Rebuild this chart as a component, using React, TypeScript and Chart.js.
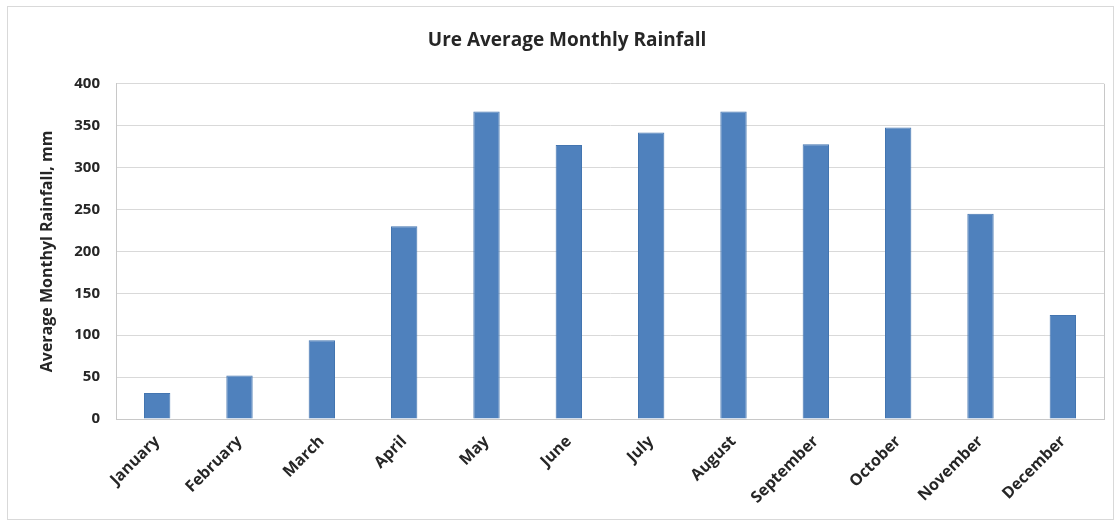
import React, { useEffect, useRef } from "react";
import { Chart, registerables } from "chart.js";

Chart.register(...registerables);

const months = [
  "January", "February", "March", "April", "May", "June",
  "July", "August", "September", "October", "November", "December",
];
const rainfall = [31, 52, 94, 230, 367, 327, 342, 367, 328, 348, 245, 124];
const yTicks = [0, 50, 100, 150, 200, 250, 300, 350, 400];
const titleText = "Ure Average Monthly Rainfall";
const yTitleText = "Average Monthyl Rainfall, mm";

const FONT = "'Open Sans', Lato, sans-serif";
const W = 1120;
const H = 522;

const framePlugin = {
  id: "frame",
  beforeDraw(chart: any) {
    const ctx = chart.ctx;
    ctx.save();
    ctx.fillStyle = "#ffffff";
    ctx.fillRect(0, 0, chart.width, chart.height);
    ctx.strokeStyle = "#d9d9d9";
    ctx.lineWidth = 1;
    ctx.strokeRect(7.5, 6.5, 1106, 513);
    ctx.restore();
  },
  afterDatasetsDraw(chart: any) {
    const { ctx, chartArea } = chart;
    ctx.save();
    ctx.strokeStyle = "#c8c8c8";
    ctx.lineWidth = 1;
    ctx.beginPath();
    const x = Math.round(chartArea.right) + 0.5;
    ctx.moveTo(x, chartArea.top);
    ctx.lineTo(x, chartArea.bottom);
    ctx.stroke();
    ctx.restore();
  },
};

export default function App() {
  const ref = useRef<HTMLCanvasElement | null>(null);

  useEffect(() => {
    if (!ref.current) return;
    const chart = new Chart(ref.current, {
      type: "bar",
      data: {
        labels: months,
        datasets: [
          {
            data: rainfall,
            backgroundColor: "#4f81bd",
            borderColor: "#4475b0",
            borderWidth: 1,
            categoryPercentage: 1,
            barPercentage: 0.32,
          },
        ],
      },
      plugins: [framePlugin],
      options: {
        responsive: false,
        animation: false,
        layout: { padding: { left: 30, right: 16, top: 0, bottom: 0 } },
        plugins: {
          legend: { display: false },
          tooltip: { enabled: false },
          title: {
            display: true,
            text: titleText,
            color: "#262626",
            font: { family: FONT, size: 19, weight: "bold" },
            padding: { top: 29, bottom: 32 },
          },
        },
        scales: {
          x: {
            grid: { display: false, drawTicks: false },
            border: { display: true, color: "#c8c8c8" },
            ticks: {
              color: "#262626",
              font: { family: FONT, size: 16, weight: "bold" },
              minRotation: 45,
              maxRotation: 45,
              padding: 13,
              autoSkip: false,
            },
            afterFit(scale: any) {
              scale.height = H - 419;
            },
          },
          y: {
            min: 0,
            max: 400,
            afterBuildTicks(scale: any) {
              scale.ticks = yTicks.map((v) => ({ value: v }));
            },
            grid: { color: "#d9d9d9", drawTicks: false },
            border: { display: true, color: "#c8c8c8" },
            ticks: {
              color: "#262626",
              font: { family: FONT, size: 15, weight: "bold" },
              padding: 16,
            },
            title: {
              display: true,
              text: yTitleText,
              color: "#262626",
              font: { family: FONT, size: 16, weight: "bold" },
              padding: { top: 8, bottom: 0 },
            },
            afterFit(scale: any) {
              scale.width = 116 - 30;
            },
          },
        },
      },
    });
    return () => chart.destroy();
  }, []);

  return (
    <div style={{ position: "absolute", left: 0, top: 0, width: W, height: H, background: "#fff" }}>
      <canvas ref={ref} width={W} height={H} style={{ display: "block", width: W, height: H }} />
    </div>
  );
}
